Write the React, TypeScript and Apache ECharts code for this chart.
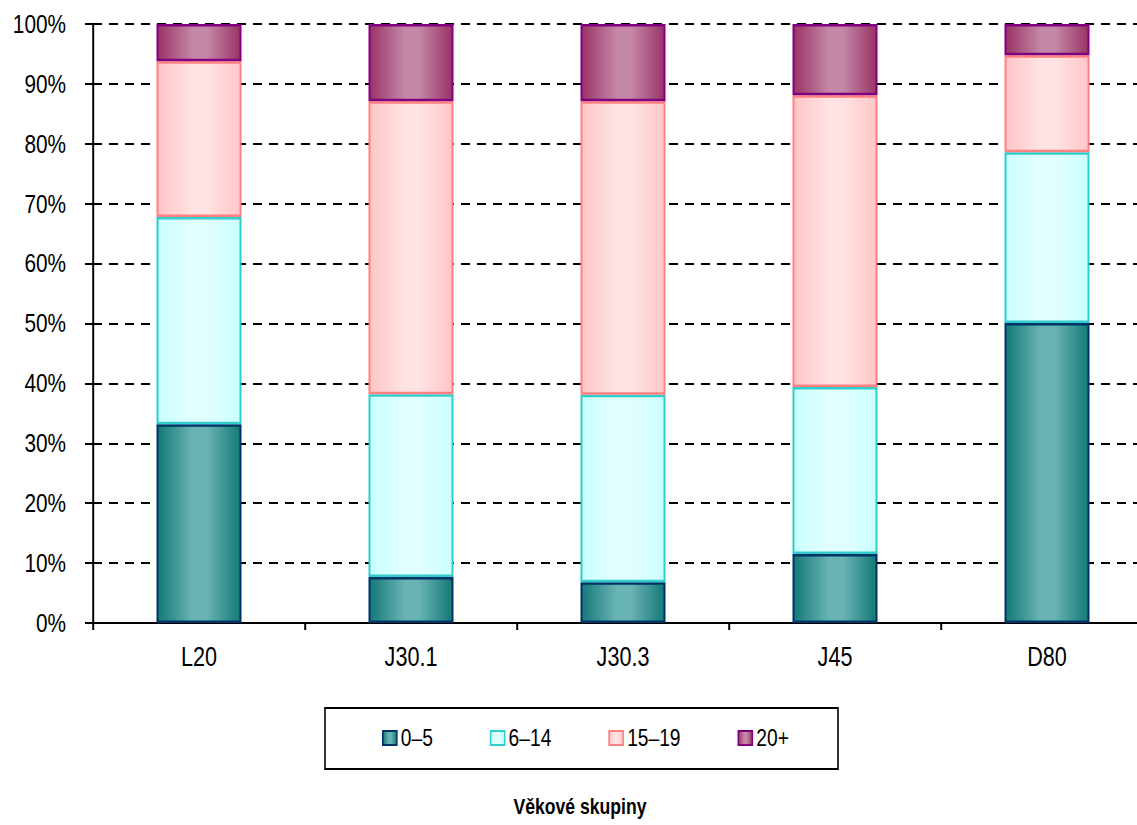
import React, { useEffect, useRef } from "react";
import * as echarts from "echarts";

const categories = ["L20", "J30.1", "J30.3", "J45", "D80"];
const seriesNames = ["0–5", "6–14", "15–19", "20+"];
const age0to5 = [33.2, 7.7, 6.8, 11.5, 50.1];
const age6to14 = [34.6, 30.5, 31.3, 27.9, 28.5];
const age15to19 = [26.0, 48.9, 49.0, 48.7, 16.2];
const age20plus = [6.2, 12.9, 12.9, 11.9, 5.2];
const yTicks = [0, 10, 20, 30, 40, 50, 60, 70, 80, 90, 100];

// horizontal squeeze of the whole picture (the reference text is narrow)
const S = 0.8;
const X = (px: number) => px / S;

const grad = (edge: string, center: string) =>
  new echarts.graphic.LinearGradient(0, 0, 1, 0, [
    { offset: 0, color: edge },
    { offset: 0.42, color: center },
    { offset: 0.6, color: center },
    { offset: 1, color: edge },
  ]);

const styles = [
  { edge: "#157878", center: "#68b3b3", border: "#003366" },
  { edge: "#c9ffff", center: "#e2ffff", border: "#33cccc" },
  { edge: "#ffc6c6", center: "#ffe2e2", border: "#ff8080" },
  { edge: "#993366", center: "#c487a6", border: "#800080" },
];

const FONT = "'Liberation Sans', Arial, sans-serif";

export default function App() {
  const ref = useRef<HTMLDivElement>(null);
  useEffect(() => {
    if (!ref.current) return;
    const chart = echarts.init(ref.current, undefined, { renderer: "svg" });
    const dataSets = [age0to5, age6to14, age15to19, age20plus];
    chart.setOption({
      animation: false,
      backgroundColor: "#ffffff",
      textStyle: { fontFamily: FONT },
      grid: { left: X(93), top: 24, width: X(1060), height: 599, containLabel: false },
      xAxis: {
        type: "category",
        data: categories,
        axisLine: { lineStyle: { color: "#000", width: 2 } },
        axisTick: { show: true, length: 7, lineStyle: { color: "#000", width: 2.5 } },
        axisLabel: { color: "#000", fontSize: 27, fontFamily: FONT, margin: 20 },
      },
      yAxis: {
        type: "value",
        min: 0,
        max: 100,
        interval: 10,
        axisLine: { show: true, lineStyle: { color: "#000", width: 2.5 } },
        axisTick: { show: true, length: X(8), lineStyle: { color: "#000", width: 2 } },
        axisLabel: {
          color: "#000",
          fontSize: 26,
          fontFamily: FONT,
          margin: X(27),
          formatter: (v: number) => (yTicks.includes(v) ? v + "%" : ""),
        },
        splitLine: {
          show: true,
          lineStyle: { color: "#000", width: 2, type: [X(9), X(7)] },
        },
      },
      legend: {
        left: X(382),
        top: 726,
        padding: 0,
        itemWidth: X(14),
        itemHeight: 14,
        itemGap: X(57),
        icon: "rect",
        textStyle: { color: "#000", fontSize: 24, fontFamily: FONT },
        data: seriesNames,
      },
      graphic: [
        {
          type: "rect",
          shape: { x: X(325), y: 708, width: X(513), height: 61 },
          style: { fill: "none", stroke: "#000", lineWidth: 2 },
          z: 1,
        },
        {
          type: "text",
          x: X(580),
          y: 806,
          style: {
            text: "Věkové skupiny",
            fill: "#000",
            font: `bold 22px ${FONT}`,
            textAlign: "center",
            textVerticalAlign: "middle",
          },
        },
      ],
      series: seriesNames.map((name, i) => ({
        name,
        type: "bar",
        stack: "total",
        barWidth: X(85),
        data: dataSets[i],
        itemStyle: {
          color: grad(styles[i].edge, styles[i].center),
          borderColor: styles[i].border,
          borderWidth: 2.5,
        },
        emphasis: { disabled: true },
      })),
    });
    return () => chart.dispose();
  }, []);
  return (
    <div
      style={{
        position: "absolute",
        left: 0,
        top: 0,
        width: 1137,
        height: 825,
        overflow: "hidden",
        background: "#fff",
      }}
    >
      <div
        ref={ref}
        style={{
          width: X(1170),
          height: 825,
          transform: `scaleX(${S})`,
          transformOrigin: "0 0",
        }}
      />
    </div>
  );
}
